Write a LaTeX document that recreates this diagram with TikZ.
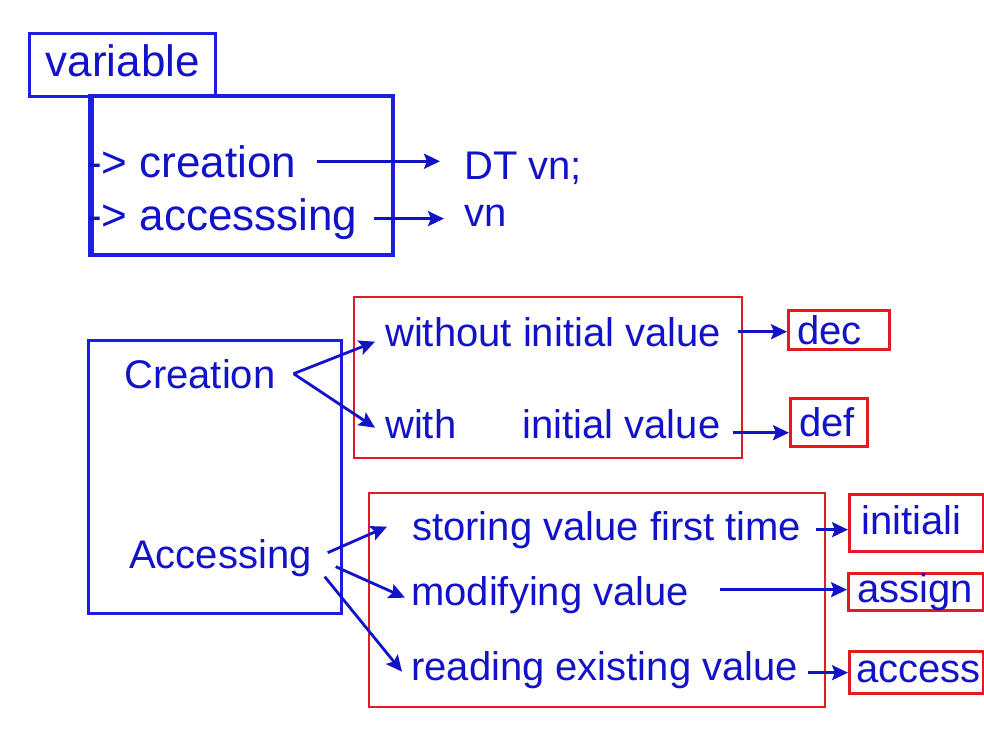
\documentclass[tikz,border=0pt]{standalone}
\usepackage{fontspec}
\setmainfont{Liberation Sans}
\usepackage{tikz}
\usepackage{xcolor}
\usetikzlibrary{arrows.meta, positioning}
\definecolor{cText}{RGB}{18,18,200}
\definecolor{cLine}{RGB}{30,30,225}
\definecolor{cRed}{RGB}{226,26,36}
\tikzset{
	grpbox/.style ={draw=cLine, line width=3.4pt},
	redgrp/.style ={draw=cRed, line width=2.8pt},
	lbl/.style    ={text=cText, font=\fontsize{44}{50}\selectfont, inner sep=0pt, anchor=base west},
	item/.style   ={text=cText, font=\fontsize{40}{46}\selectfont, inner sep=0pt, anchor=base west},
	res/.style    ={draw=cRed, line width=2.8pt, text=cText, font=\fontsize{40}{46}\selectfont, anchor=north west, align=left, inner ysep=0pt},
	sig/.style    ={-{Stealth[length=16pt, width=15pt, inset=3pt]}, line width=2.8pt, draw=cText},
}
\begin{document}
\begin{tikzpicture}[x=1pt, y=-1pt]
	\useasboundingbox (0,0) rectangle (984,736);
	% upper part
	\node[grpbox, lbl, anchor=north west, minimum width=186pt, minimum height=63pt, text depth=10pt] (var) at (28,32) {variable};
	\draw[grpbox] (90,96) rectangle (393,255);
	\draw[grpbox] (92,96) -- (92,255);
	\node[lbl] (cre) at (87,177) {-> creation};
	\node[lbl] (acc) at (87,230) {-> accesssing};
	\node[item] (dt) at (464,179) {DT vn;};
	\node[item] (vn) at (464,226) {vn};
	\draw[sig, shorten >=24pt] ([xshift=20pt]cre.east) -- (cre.east -| dt.west);
	\draw[sig, shorten >=20pt] ([xshift=16pt]acc.east) -- (acc.east -| vn.west);
	% lower part
	\draw[grpbox, line width=3pt] (88,340) rectangle (341,613);
	\draw[redgrp] (354,297) rectangle (742,458);
	\draw[redgrp] (369,493) rectangle (825,707);
	\node[item] (crt) at (124,388) {Creation};
	\node[item] (acs) at (129,568) {Accessing};
	\node[item] (wo) at (385,346) {without initial value};
	\node[item] (wi) at (385,438) {with\hspace{55pt} initial value};
	\node[item] (sto) at (412,540) {storing value first time};
	\node[item] (mod) at (411,605) {modifying value};
	\node[item] (rea) at (411,680) {reading existing value};
	\node[res, inner xsep=9pt, text width=83pt, minimum height=39pt] (dec) at (787,309) {dec};
	\node[res, inner xsep=9pt, text width=59pt, minimum height=48pt] (def) at (789,397) {def};
	\node[res, inner xsep=12pt, text width=110pt, minimum height=57pt, text depth=6pt] (ini) at (848,493) {initiali};
	\node[res, inner xsep=9pt, text width=117pt, minimum height=36pt] (asg) at (847,572) {assign};
	\node[res, inner xsep=7pt, text width=120pt, minimum height=42pt] (acx) at (848,650) {access};
	\draw[sig] ([xshift=18pt]crt.east) -- ([xshift=-10pt, yshift=-10pt]wo.west);
	\draw[sig] ([xshift=18pt]crt.east) -- ([xshift=-10pt, yshift=-4pt]wi.west);
	\draw[sig] ([xshift=16pt, yshift=5pt]acs.east) -- ([xshift=-25pt, yshift=3pt]sto.west);
	\draw[sig] ([xshift=24pt, yshift=-9pt]acs.east) -- ([xshift=-6pt, yshift=-3pt]mod.west);
	\draw[sig] ([xshift=13pt, yshift=-19pt]acs.east) -- ([xshift=-9pt, yshift=-2pt]rea.west);
	\draw[sig] ([xshift=17pt]wo.east) -- (wo.east -| dec.west);
	\draw[sig] ([xshift=12pt, yshift=-9pt]wi.east) -- ([yshift=-9pt]wi.east -| def.west);
	\draw[sig] ([xshift=15pt]sto.east) -- (sto.east -| ini.west);
	\draw[sig] ([xshift=31pt, yshift=5pt]mod.east) -- ([yshift=5pt]mod.east -| asg.west);
	\draw[sig] ([xshift=10pt, yshift=-3pt]rea.east) -- ([yshift=-3pt]rea.east -| acx.west);
\end{tikzpicture}
\end{document}
